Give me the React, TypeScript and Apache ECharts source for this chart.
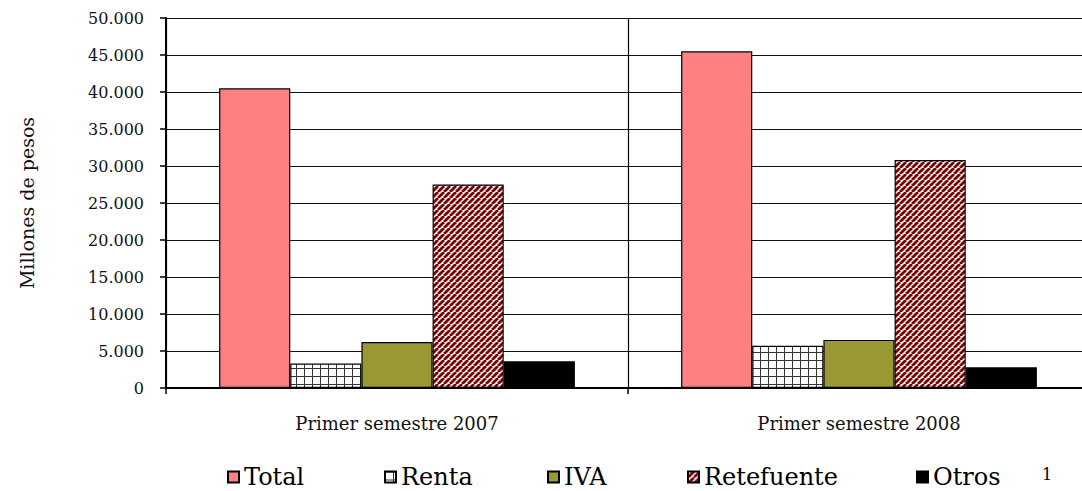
import React, { useEffect, useRef } from "react";
import * as echarts from "echarts";

const categories = ["Primer semestre 2007", "Primer semestre 2008"];
const seriesNames = ["Total", "Renta", "IVA", "Retefuente", "Otros"];
const totalValues = [40500, 45500];
const rentaValues = [3300, 5700];
const ivaValues = [6200, 6500];
const retefuenteValues = [27500, 30800];
const otrosValues = [3600, 2800];
const yTicks = { min: 0, max: 50000, interval: 5000 };

const FONT = "'DejaVu Serif', 'Liberation Serif', serif";

function makeGrid(): HTMLCanvasElement {
  const c = document.createElement("canvas");
  c.width = 8;
  c.height = 8;
  const ctx = c.getContext("2d")!;
  ctx.fillStyle = "#ffffff";
  ctx.fillRect(0, 0, 8, 8);
  ctx.fillStyle = "#333333";
  ctx.fillRect(0, 0, 1, 8);
  ctx.fillRect(0, 0, 8, 1);
  return c;
}

function makeStripes(): HTMLCanvasElement {
  const s = 6;
  const c = document.createElement("canvas");
  c.width = s;
  c.height = s;
  const ctx = c.getContext("2d")!;
  ctx.fillStyle = "#ffffff";
  ctx.fillRect(0, 0, s, s);
  ctx.strokeStyle = "#800000";
  ctx.lineWidth = 2.8;
  for (const x of [-s, 0, s]) {
    ctx.beginPath();
    ctx.moveTo(x, s);
    ctx.lineTo(x + s, 0);
    ctx.stroke();
  }
  return c;
}

function fmt(v: number): string {
  return String(v).replace(/\B(?=(\d{3})+(?!\d))/g, ".");
}

export default function App() {
  const ref = useRef<HTMLDivElement>(null);

  useEffect(() => {
    if (!ref.current) return;
    const chart = echarts.init(ref.current, undefined, { renderer: "svg" });
    const gridPat = { image: makeGrid(), repeat: "repeat" };
    const stripePat = { image: makeStripes(), repeat: "repeat" };
    const colors: any[] = ["#ff8080", gridPat, "#999933", stripePat, "#000000"];
    const values = [totalValues, rentaValues, ivaValues, retefuenteValues, otrosValues];
    const legendLefts = [227, 384, 547, 687, 916];

    chart.setOption({
      animation: false,
      grid: { left: 166, right: 0, top: 18, bottom: 103 },
      legend: seriesNames.map((n, i) => ({
        data: [n],
        left: legendLefts[i],
        top: 465,
        icon: "rect",
        itemWidth: 11,
        itemHeight: 11,
        padding: 0,
        textStyle: { fontFamily: FONT, fontSize: 24, color: "#000" },
      })),
      xAxis: {
        type: "category",
        data: categories,
        axisLine: { lineStyle: { color: "#000", width: 2 } },
        axisTick: { show: true, length: 6, lineStyle: { color: "#000", width: 1.5 } },
        splitLine: { show: true, lineStyle: { color: "#000", width: 1.2 } },
        axisLabel: { fontFamily: FONT, fontSize: 18, color: "#111", margin: 26 },
      },
      yAxis: {
        type: "value",
        min: yTicks.min,
        max: yTicks.max,
        interval: yTicks.interval,
        name: "Millones de pesos",
        nameLocation: "middle",
        nameGap: 130,
        nameTextStyle: { fontFamily: FONT, fontSize: 19, color: "#111" },
        axisLine: { show: true, lineStyle: { color: "#000", width: 2 } },
        axisTick: { show: true, length: 6, lineStyle: { color: "#000", width: 1.5 } },
        splitLine: { show: true, lineStyle: { color: "#111", width: 1.2 } },
        axisLabel: {
          fontFamily: FONT,
          fontSize: 16,
          color: "#111",
          margin: 22,
          formatter: (v: number) => fmt(v),
        },
      },
      graphic: [
        {
          type: "text",
          left: 1042,
          top: 466,
          style: { text: "1", fontFamily: FONT, fontSize: 16, fill: "#000" },
        },
      ],
      series: seriesNames.map((n, i) => ({
        name: n,
        type: "bar",
        data: values[i],
        barGap: "0%",
        barCategoryGap: "23%",
        itemStyle: { color: colors[i], borderColor: "#000", borderWidth: 1.2 },
      })),
    });
    return () => chart.dispose();
  }, []);

  return (
    <div style={{ position: "fixed", left: 0, top: 0, width: 1082, height: 491, overflow: "hidden", background: "#fff" }}>
      <div ref={ref} style={{ width: 1090, height: 491 }} />
    </div>
  );
}
